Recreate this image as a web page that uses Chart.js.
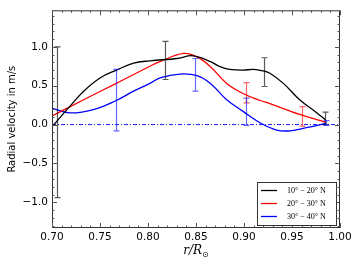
<!DOCTYPE html>
<html>
<head>
<meta charset="utf-8">
<script src="https://cdn.jsdelivr.net/npm/chart.js@4"></script>
<style>
  html, body { margin: 0; padding: 0; background: #fff; }
  #wrap { width: 360px; height: 270px; }
</style>
</head>
<body>
<div id="wrap"><canvas id="myChart" width="360" height="270"></canvas></div>
<script>
// curve samples (r/R_sun, velocity m/s)
const blackR = [0.700, 0.719, 0.733, 0.750, 0.767, 0.785, 0.802, 0.830, 0.847, 0.865, 0.875, 0.885, 0.899, 0.910, 0.920, 0.927, 0.941, 0.958, 0.976, 0.985];
const blackV = [-0.03, 0.24, 0.43, 0.60, 0.70, 0.79, 0.82, 0.85, 0.885, 0.81, 0.745, 0.71, 0.70, 0.71, 0.69, 0.66, 0.53, 0.32, 0.15, 0.06];
const redR = [0.700, 0.733, 0.767, 0.802, 0.8125, 0.837, 0.851, 0.865, 0.882, 0.899, 0.917, 0.927, 0.958, 0.985];
const redV = [0.11, 0.32, 0.53, 0.75, 0.81, 0.915, 0.87, 0.745, 0.53, 0.40, 0.31, 0.27, 0.13, 0.03];
const blueR = [0.700, 0.719, 0.745, 0.767, 0.785, 0.802, 0.8125, 0.833, 0.851, 0.865, 0.882, 0.899, 0.917, 0.934, 0.948, 0.965, 0.985];
const blueV = [0.21, 0.15, 0.20, 0.31, 0.43, 0.53, 0.60, 0.65, 0.63, 0.53, 0.32, 0.17, 0.02, -0.07, -0.08, -0.04, 0.015];

// error bars: position, centre, half-width
const blackErrR = [0.705, 0.818, 0.921, 0.984];
const blackErrV = [0.03, 0.825, 0.675, 0.08];
const blackErrE = [0.97, 0.245, 0.185, 0.08];
const redErrR = [0.902, 0.960];
const redErrV = [0.41, 0.105];
const redErrE = [0.13, 0.125];
const blueErrR = [0.767, 0.849, 0.902, 0.985];
const blueErrV = [0.315, 0.64, 0.165, 0.02];
const blueErrE = [0.395, 0.21, 0.175, 0.03];

const legendLabels = ['10° − 20° N', '20° − 30° N', '30° − 40° N'];
const xTicks = [0.70, 0.75, 0.80, 0.85, 0.90, 0.95, 1.00];
const yTicks = [-1.0, -0.5, 0.0, 0.5, 1.0];

function pts(rs, vs) {
    return rs.map((r, i) => ({ x: r, y: vs[i] }));
}

const lineStyle = { showLine: true, pointRadius: 0, borderWidth: 1.3, tension: 0.4, fill: false };

// ticks, frame, error bars, legend and labels
const decor = {
    id: 'decor',
    afterDatasetsDraw(chart) {
        const ctx = chart.ctx;
        const a = chart.chartArea;
        const xs = chart.scales.x, ys = chart.scales.y;
        ctx.save();

        // error bars
        const groups = [
            [blackErrR, blackErrV, blackErrE, 'rgba(0,0,0,0.65)'],
            [redErrR, redErrV, redErrE, 'rgba(255,0,0,0.6)'],
            [blueErrR, blueErrV, blueErrE, 'rgba(0,0,255,0.6)']
        ];
        ctx.lineWidth = 1.2;
        groups.forEach(g => {
            ctx.strokeStyle = g[3];
            g[0].forEach((r, i) => {
                const px = Math.round(xs.getPixelForValue(r)) + 0.5;
                const top = ys.getPixelForValue(g[1][i] + g[2][i]);
                const bot = ys.getPixelForValue(g[1][i] - g[2][i]);
                ctx.beginPath();
                ctx.moveTo(px, top); ctx.lineTo(px, bot);
                ctx.moveTo(px - 3, top); ctx.lineTo(px + 3, top);
                ctx.moveTo(px - 3, bot); ctx.lineTo(px + 3, bot);
                ctx.stroke();
            });
        });

        // frame
        ctx.strokeStyle = '#333';
        ctx.lineWidth = 1;
        ctx.strokeRect(a.left + 0.5, a.top + 0.5, a.right - a.left - 1, a.bottom - a.top - 1);

        // ticks (inside, all four sides)
        ctx.strokeStyle = '#555';
        ctx.beginPath();
        for (let k = 70; k <= 100; k++) {
            const px = Math.round(xs.getPixelForValue(k / 100)) + 0.5;
            const len = k % 5 === 0 ? 5 : 2.5;
            ctx.moveTo(px, a.bottom); ctx.lineTo(px, a.bottom - len);
            ctx.moveTo(px, a.top); ctx.lineTo(px, a.top + len);
        }
        for (let k = -13; k <= 14; k++) {
            const py = Math.round(ys.getPixelForValue(k / 10)) + 0.5;
            const len = k % 5 === 0 ? 5 : 2.5;
            ctx.moveTo(a.left, py); ctx.lineTo(a.left + len, py);
            ctx.moveTo(a.right, py); ctx.lineTo(a.right - len, py);
        }
        ctx.stroke();

        // legend
        const lx = 257, ly = 182, lw = 79, lh = 43;
        ctx.fillStyle = '#fff';
        ctx.fillRect(lx, ly, lw, lh);
        ctx.strokeStyle = '#333';
        ctx.strokeRect(lx + 0.5, ly + 0.5, lw, lh);
        const cols = ['#000', '#f00', '#00f'];
        ctx.font = '8px "Liberation Serif"';
        ctx.textBaseline = 'middle';
        ctx.textAlign = 'left';
        legendLabels.forEach((t, i) => {
            const y = Math.round(ly + 8 + i * 13.2) + 0.5;
            ctx.strokeStyle = cols[i];
            ctx.lineWidth = 1.3;
            ctx.beginPath();
            ctx.moveTo(lx + 4, y); ctx.lineTo(lx + 20, y);
            ctx.stroke();
            ctx.fillStyle = '#000';
            ctx.fillText(t, lx + 30, y);
        });

        // y title
        ctx.fillStyle = '#000';
        ctx.font = '10px "DejaVu Sans"';
        ctx.textAlign = 'center';
        ctx.textBaseline = 'middle';
        ctx.translate(12.5, (a.top + a.bottom) / 2);
        ctx.rotate(-Math.PI / 2);
        ctx.fillText('Radial velocity in m/s', 0, 0);
        ctx.setTransform(1, 0, 0, 1, 0, 0);

        // x title r/R_sun
        ctx.textAlign = 'left';
        ctx.textBaseline = 'alphabetic';
        ctx.font = 'italic 12px "DejaVu Serif"';
        const main = 'r/R';
        const w = ctx.measureText(main).width;
        ctx.font = '8px "DejaVu Sans"';
        const ws = ctx.measureText('⊙').width;
        const x0 = (a.left + a.right) / 2 - (w + ws) / 2;
        ctx.font = 'italic 12px "DejaVu Serif"';
        ctx.fillText(main, x0, 254);
        ctx.font = '8px "DejaVu Sans"';
        ctx.fillText('⊙', x0 + w, 257);

        ctx.restore();
    }
};

const ctx = document.getElementById('myChart').getContext('2d');
window.myChart = new Chart(ctx, {
    type: 'scatter',
    data: {
        datasets: [
            Object.assign({ label: legendLabels[0], data: pts(blackR, blackV), borderColor: '#000' }, lineStyle),
            Object.assign({ label: legendLabels[1], data: pts(redR, redV), borderColor: '#f00' }, lineStyle),
            Object.assign({ label: legendLabels[2], data: pts(blueR, blueV), borderColor: '#00f' }, lineStyle),
            { label: 'zero', data: [{ x: 0.70, y: 0 }, { x: 1.00, y: 0 }], showLine: true, pointRadius: 0,
              borderColor: '#00f', borderWidth: 0.9, borderDash: [4, 2, 1, 2] }
        ]
    },
    options: {
        responsive: false,
        animation: false,
        devicePixelRatio: 1,
        layout: { padding: { top: 8, right: 20, left: 0, bottom: 0 } },
        plugins: { legend: { display: false }, tooltip: { enabled: false } },
        scales: {
            x: {
                type: 'linear', min: 0.70, max: 1.00,
                grid: { display: false, drawTicks: false },
                border: { display: false },
                afterBuildTicks: s => { s.ticks = xTicks.map(v => ({ value: v })); },
                afterFit: s => { s.height = 42; },
                ticks: {
                    padding: 3, color: '#000', maxRotation: 0,
                    font: { family: 'DejaVu Sans', size: 10.5 },
                    callback: v => v.toFixed(2)
                }
            },
            y: {
                type: 'linear', min: -1.33, max: 1.47,
                grid: { display: false, drawTicks: false },
                border: { display: false },
                afterBuildTicks: s => { s.ticks = yTicks.map(v => ({ value: v })); },
                afterFit: s => { s.width = 52; },
                ticks: {
                    padding: 4, color: '#000',
                    font: { family: 'DejaVu Sans', size: 10.5 },
                    callback: v => v.toFixed(1).replace('-', '−')
                }
            }
        }
    },
    plugins: [decor]
});
</script>
</body>
</html>
